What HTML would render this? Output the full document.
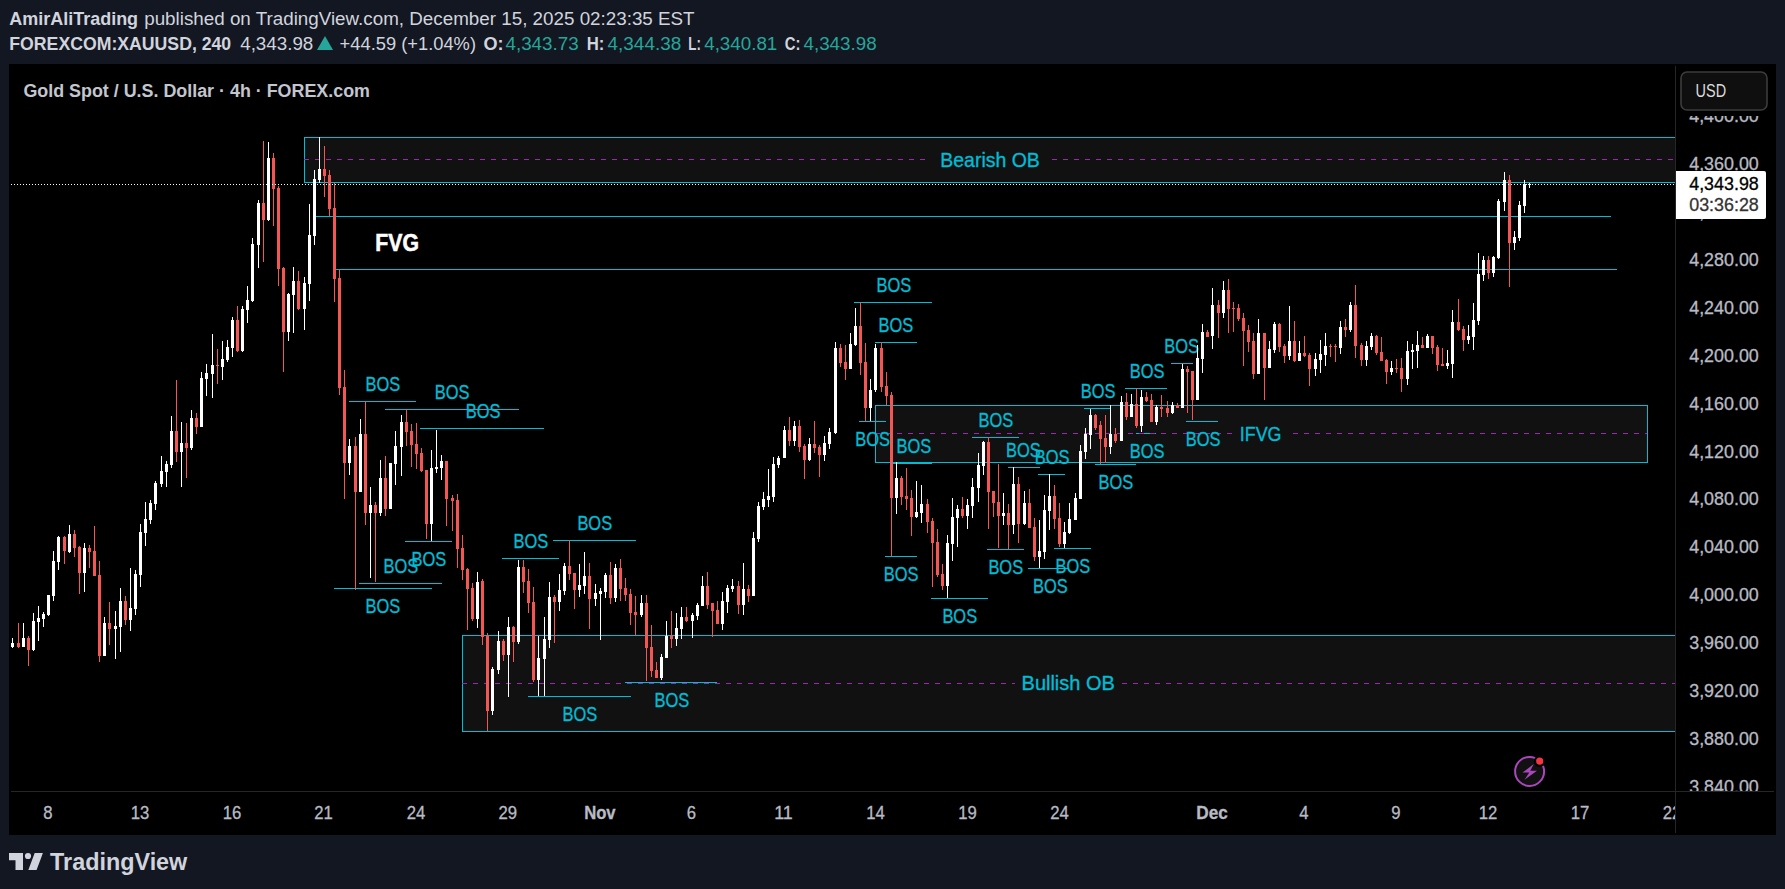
<!DOCTYPE html>
<html lang="en"><head><meta charset="utf-8"><title>XAUUSD chart</title>
<style>html,body{margin:0;padding:0;background:#131722;overflow:hidden}svg{display:block}text{font-family:"Liberation Sans", Arial, sans-serif;}</style></head><body>
<svg width="1785" height="889" viewBox="0 0 1785 889">
<rect width="1785" height="889" fill="#131722"/>
<text x="9.3" y="25.2" font-size="18.3" fill="#d1d4dc" font-weight="bold" textLength="128.8" lengthAdjust="spacingAndGlyphs">AmirAliTrading</text>
<text x="144.2" y="25.2" font-size="18.3" fill="#d1d4dc" textLength="550.4" lengthAdjust="spacingAndGlyphs">published on TradingView.com, December 15, 2025 02:23:35 EST</text>
<text x="9.3" y="50.4" font-size="18.3" fill="#d1d4dc" font-weight="bold" textLength="221.9" lengthAdjust="spacingAndGlyphs">FOREXCOM:XAUUSD, 240</text>
<text x="240.2" y="50.4" font-size="18.3" fill="#d1d4dc" textLength="73.1" lengthAdjust="spacingAndGlyphs">4,343.98</text>
<polygon points="317,50 325,36 333,50" fill="#26a69a"/>
<text x="339.6" y="50.4" font-size="18.3" fill="#d1d4dc" textLength="136.4" lengthAdjust="spacingAndGlyphs">+44.59 (+1.04%)</text>
<text x="483.4" y="50.4" font-size="18.3" fill="#d1d4dc" font-weight="bold" textLength="20.1" lengthAdjust="spacingAndGlyphs">O:</text>
<text x="505.5" y="50.4" font-size="18.3" fill="#26a69a" textLength="73.1" lengthAdjust="spacingAndGlyphs">4,343.73</text>
<text x="586.7" y="50.4" font-size="18.3" fill="#d1d4dc" font-weight="bold" textLength="17.7" lengthAdjust="spacingAndGlyphs">H:</text>
<text x="607.6" y="50.4" font-size="18.3" fill="#26a69a" textLength="73.6" lengthAdjust="spacingAndGlyphs">4,344.38</text>
<text x="688.3" y="50.4" font-size="18.3" fill="#d1d4dc" font-weight="bold" textLength="12.6" lengthAdjust="spacingAndGlyphs">L:</text>
<text x="704.2" y="50.4" font-size="18.3" fill="#26a69a" textLength="73.1" lengthAdjust="spacingAndGlyphs">4,340.81</text>
<text x="784.8" y="50.4" font-size="18.3" fill="#d1d4dc" font-weight="bold" textLength="15.7" lengthAdjust="spacingAndGlyphs">C:</text>
<text x="803.5" y="50.4" font-size="18.3" fill="#26a69a" textLength="73.1" lengthAdjust="spacingAndGlyphs">4,343.98</text>
<rect x="9" y="64" width="1767" height="771" fill="#000"/>
<clipPath id="pane"><rect x="9" y="64" width="1666.5" height="727.5"/></clipPath>
<g clip-path="url(#pane)">
<g shape-rendering="crispEdges">
<rect x="304.5" y="137.5" width="1395.5" height="45.0" fill="#111111"/>
<path d="M1700 137.5H304.5V182.5H1700" fill="none" stroke="#00bcd4" stroke-width="1"/>
<rect x="462.5" y="635.5" width="1237.5" height="96.0" fill="#111111"/>
<path d="M1700 635.5H462.5V731.5H1700" fill="none" stroke="#00bcd4" stroke-width="1"/>
<rect x="875.5" y="405.5" width="772.0" height="57.0" fill="#111111"/>
<rect x="875.5" y="405.5" width="772.0" height="57.0" fill="none" stroke="#00bcd4" stroke-width="1"/>
<line x1="304" y1="159.5" x2="928" y2="159.5" stroke="#9c27b0" stroke-width="1" stroke-dasharray="5 6"/>
<line x1="1052" y1="159.5" x2="1700" y2="159.5" stroke="#9c27b0" stroke-width="1" stroke-dasharray="5 6"/>
<line x1="462" y1="683.5" x2="1015" y2="683.5" stroke="#9c27b0" stroke-width="1" stroke-dasharray="5 6"/>
<line x1="1122" y1="683.5" x2="1700" y2="683.5" stroke="#9c27b0" stroke-width="1" stroke-dasharray="5 6"/>
<line x1="315.4" y1="216.5" x2="1611" y2="216.5" stroke="#00bcd4" stroke-width="1"/>
<line x1="336" y1="269.5" x2="1616.7" y2="269.5" stroke="#00bcd4" stroke-width="1"/>
<line x1="348.8" y1="401.5" x2="416.3" y2="401.5" stroke="#00bcd4" stroke-width="1"/>
<line x1="384.7" y1="409.5" x2="518.5" y2="409.5" stroke="#00bcd4" stroke-width="1"/>
<line x1="420.4" y1="428.5" x2="544" y2="428.5" stroke="#00bcd4" stroke-width="1"/>
<line x1="405" y1="541.5" x2="452" y2="541.5" stroke="#00bcd4" stroke-width="1"/>
<line x1="359" y1="583.5" x2="441.7" y2="583.5" stroke="#00bcd4" stroke-width="1"/>
<line x1="333.6" y1="588.5" x2="431.8" y2="588.5" stroke="#00bcd4" stroke-width="1"/>
<line x1="502" y1="558.5" x2="559.3" y2="558.5" stroke="#00bcd4" stroke-width="1"/>
<line x1="553" y1="540.5" x2="635.8" y2="540.5" stroke="#00bcd4" stroke-width="1"/>
<line x1="527.6" y1="696.5" x2="630.9" y2="696.5" stroke="#00bcd4" stroke-width="1"/>
<line x1="624.6" y1="682.5" x2="717.4" y2="682.5" stroke="#00bcd4" stroke-width="1"/>
<line x1="854.4" y1="302.5" x2="931.9" y2="302.5" stroke="#00bcd4" stroke-width="1"/>
<line x1="875.2" y1="342.5" x2="916.7" y2="342.5" stroke="#00bcd4" stroke-width="1"/>
<line x1="859.4" y1="421.5" x2="886" y2="421.5" stroke="#00bcd4" stroke-width="1"/>
<line x1="892" y1="463.5" x2="932" y2="463.5" stroke="#00bcd4" stroke-width="1"/>
<line x1="884.9" y1="556.5" x2="917.1" y2="556.5" stroke="#00bcd4" stroke-width="1"/>
<line x1="930.9" y1="598.5" x2="988.3" y2="598.5" stroke="#00bcd4" stroke-width="1"/>
<line x1="986.9" y1="549.5" x2="1024" y2="549.5" stroke="#00bcd4" stroke-width="1"/>
<line x1="1027.9" y1="568.5" x2="1068.6" y2="568.5" stroke="#00bcd4" stroke-width="1"/>
<line x1="1053.7" y1="548.5" x2="1090.6" y2="548.5" stroke="#00bcd4" stroke-width="1"/>
<line x1="972" y1="437.5" x2="1018.7" y2="437.5" stroke="#00bcd4" stroke-width="1"/>
<line x1="1008" y1="467.5" x2="1039.6" y2="467.5" stroke="#00bcd4" stroke-width="1"/>
<line x1="1038" y1="474.5" x2="1064.9" y2="474.5" stroke="#00bcd4" stroke-width="1"/>
<line x1="1084" y1="408.5" x2="1110.8" y2="408.5" stroke="#00bcd4" stroke-width="1"/>
<line x1="1125" y1="388.5" x2="1166.7" y2="388.5" stroke="#00bcd4" stroke-width="1"/>
<line x1="1094.6" y1="464.5" x2="1136" y2="464.5" stroke="#00bcd4" stroke-width="1"/>
<line x1="1135.7" y1="433.5" x2="1156" y2="433.5" stroke="#00bcd4" stroke-width="1"/>
<line x1="1171.4" y1="363.5" x2="1192.6" y2="363.5" stroke="#00bcd4" stroke-width="1"/>
<line x1="1186" y1="421.5" x2="1218" y2="421.5" stroke="#00bcd4" stroke-width="1"/>
<line x1="875" y1="433.5" x2="1234" y2="433.5" stroke="#9c27b0" stroke-width="1" stroke-dasharray="5 6"/>
<line x1="1293" y1="433.5" x2="1647" y2="433.5" stroke="#9c27b0" stroke-width="1" stroke-dasharray="5 6"/>
</g>
<g stroke="#00bcd4" stroke-width="0.35">
<text x="365.6" y="390.9" font-size="20.8" fill="#00bcd4" textLength="34.7" lengthAdjust="spacingAndGlyphs">BOS</text>
<text x="434.8" y="398.9" font-size="20.8" fill="#00bcd4" textLength="34.7" lengthAdjust="spacingAndGlyphs">BOS</text>
<text x="465.8" y="417.9" font-size="20.8" fill="#00bcd4" textLength="34.7" lengthAdjust="spacingAndGlyphs">BOS</text>
<text x="411.6" y="565.7" font-size="20.8" fill="#00bcd4" textLength="34.7" lengthAdjust="spacingAndGlyphs">BOS</text>
<text x="383.6" y="572.9" font-size="20.8" fill="#00bcd4" textLength="34.7" lengthAdjust="spacingAndGlyphs">BOS</text>
<text x="365.6" y="612.7" font-size="20.8" fill="#00bcd4" textLength="34.7" lengthAdjust="spacingAndGlyphs">BOS</text>
<text x="513.6" y="547.9" font-size="20.8" fill="#00bcd4" textLength="34.7" lengthAdjust="spacingAndGlyphs">BOS</text>
<text x="577.4" y="529.9" font-size="20.8" fill="#00bcd4" textLength="34.7" lengthAdjust="spacingAndGlyphs">BOS</text>
<text x="562.6" y="720.7" font-size="20.8" fill="#00bcd4" textLength="34.7" lengthAdjust="spacingAndGlyphs">BOS</text>
<text x="654.5" y="706.7" font-size="20.8" fill="#00bcd4" textLength="34.7" lengthAdjust="spacingAndGlyphs">BOS</text>
<text x="876.6" y="291.9" font-size="20.8" fill="#00bcd4" textLength="34.7" lengthAdjust="spacingAndGlyphs">BOS</text>
<text x="878.5" y="331.9" font-size="20.8" fill="#00bcd4" textLength="34.7" lengthAdjust="spacingAndGlyphs">BOS</text>
<text x="855.2" y="445.7" font-size="20.8" fill="#00bcd4" textLength="34.7" lengthAdjust="spacingAndGlyphs">BOS</text>
<text x="896.6" y="452.9" font-size="20.8" fill="#00bcd4" textLength="34.7" lengthAdjust="spacingAndGlyphs">BOS</text>
<text x="883.8" y="580.7" font-size="20.8" fill="#00bcd4" textLength="34.7" lengthAdjust="spacingAndGlyphs">BOS</text>
<text x="942.4" y="622.7" font-size="20.8" fill="#00bcd4" textLength="34.7" lengthAdjust="spacingAndGlyphs">BOS</text>
<text x="988.4" y="573.7" font-size="20.8" fill="#00bcd4" textLength="34.7" lengthAdjust="spacingAndGlyphs">BOS</text>
<text x="1033.1" y="592.7" font-size="20.8" fill="#00bcd4" textLength="34.7" lengthAdjust="spacingAndGlyphs">BOS</text>
<text x="1055.5" y="572.7" font-size="20.8" fill="#00bcd4" textLength="34.7" lengthAdjust="spacingAndGlyphs">BOS</text>
<text x="978.6" y="426.9" font-size="20.8" fill="#00bcd4" textLength="34.7" lengthAdjust="spacingAndGlyphs">BOS</text>
<text x="1006.1" y="456.9" font-size="20.8" fill="#00bcd4" textLength="34.7" lengthAdjust="spacingAndGlyphs">BOS</text>
<text x="1034.7" y="463.9" font-size="20.8" fill="#00bcd4" textLength="34.7" lengthAdjust="spacingAndGlyphs">BOS</text>
<text x="1080.7" y="397.9" font-size="20.8" fill="#00bcd4" textLength="34.7" lengthAdjust="spacingAndGlyphs">BOS</text>
<text x="1129.7" y="377.9" font-size="20.8" fill="#00bcd4" textLength="34.7" lengthAdjust="spacingAndGlyphs">BOS</text>
<text x="1098.6" y="488.7" font-size="20.8" fill="#00bcd4" textLength="34.7" lengthAdjust="spacingAndGlyphs">BOS</text>
<text x="1129.7" y="457.7" font-size="20.8" fill="#00bcd4" textLength="34.7" lengthAdjust="spacingAndGlyphs">BOS</text>
<text x="1164.2" y="352.9" font-size="20.8" fill="#00bcd4" textLength="34.7" lengthAdjust="spacingAndGlyphs">BOS</text>
<text x="1185.7" y="445.7" font-size="20.8" fill="#00bcd4" textLength="34.7" lengthAdjust="spacingAndGlyphs">BOS</text>
<text x="940.3" y="166.6" font-size="20.8" fill="#00bcd4" textLength="99.5" lengthAdjust="spacingAndGlyphs">Bearish OB</text>
<text x="1021.6" y="690.0" font-size="20.8" fill="#00bcd4" textLength="93.1" lengthAdjust="spacingAndGlyphs">Bullish OB</text>
<text x="1239.8" y="441.0" font-size="20.8" fill="#00bcd4" textLength="41.7" lengthAdjust="spacingAndGlyphs">IFVG</text>
</g>
<g stroke="#fff" stroke-width="0.6">
<text x="375.3" y="251.0" font-size="23.5" fill="#ffffff" font-weight="bold" textLength="43.6" lengthAdjust="spacingAndGlyphs">FVG</text>
</g>
<text x="23.4" y="97.0" font-size="17.6" fill="#c3c6ce" font-weight="bold" textLength="346.6" lengthAdjust="spacingAndGlyphs">Gold Spot / U.S. Dollar · 4h · FOREX.com</text>
<rect x="12" y="638" width="1" height="10" fill="#ffffff"/><rect x="11" y="643" width="3" height="4" fill="#ffffff"/>
<rect x="18" y="623" width="1" height="25" fill="#f45654"/><rect x="17" y="643" width="3" height="4" fill="#f45654"/>
<rect x="23" y="623" width="1" height="24" fill="#ffffff"/><rect x="22" y="638" width="3" height="9" fill="#ffffff"/>
<rect x="28" y="636" width="1" height="30" fill="#f45654"/><rect x="27" y="638" width="3" height="12" fill="#f45654"/>
<rect x="33" y="613" width="1" height="38" fill="#ffffff"/><rect x="32" y="621" width="3" height="29" fill="#ffffff"/>
<rect x="38" y="606" width="1" height="35" fill="#ffffff"/><rect x="37" y="618" width="3" height="4" fill="#ffffff"/>
<rect x="43" y="612" width="1" height="15" fill="#ffffff"/><rect x="42" y="614" width="3" height="5" fill="#ffffff"/>
<rect x="48" y="595" width="1" height="21" fill="#ffffff"/><rect x="47" y="595" width="3" height="20" fill="#ffffff"/>
<rect x="53" y="551" width="1" height="50" fill="#ffffff"/><rect x="52" y="561" width="3" height="35" fill="#ffffff"/>
<rect x="58" y="536" width="1" height="34" fill="#ffffff"/><rect x="57" y="537" width="3" height="25" fill="#ffffff"/>
<rect x="64" y="536" width="1" height="28" fill="#f45654"/><rect x="63" y="537" width="3" height="14" fill="#f45654"/>
<rect x="69" y="525" width="1" height="28" fill="#ffffff"/><rect x="68" y="534" width="3" height="18" fill="#ffffff"/>
<rect x="74" y="530" width="1" height="27" fill="#f45654"/><rect x="73" y="534" width="3" height="14" fill="#f45654"/>
<rect x="79" y="546" width="1" height="48" fill="#f45654"/><rect x="78" y="547" width="3" height="26" fill="#f45654"/>
<rect x="84" y="543" width="1" height="49" fill="#ffffff"/><rect x="83" y="548" width="3" height="25" fill="#ffffff"/>
<rect x="89" y="545" width="1" height="23" fill="#f45654"/><rect x="88" y="548" width="3" height="4" fill="#f45654"/>
<rect x="94" y="526" width="1" height="50" fill="#f45654"/><rect x="93" y="551" width="3" height="25" fill="#f45654"/>
<rect x="99" y="561" width="1" height="101" fill="#f45654"/><rect x="98" y="575" width="3" height="81" fill="#f45654"/>
<rect x="104" y="617" width="1" height="39" fill="#ffffff"/><rect x="103" y="623" width="3" height="33" fill="#ffffff"/>
<rect x="109" y="602" width="1" height="43" fill="#f45654"/><rect x="108" y="623" width="3" height="6" fill="#f45654"/>
<rect x="115" y="611" width="1" height="48" fill="#ffffff"/><rect x="114" y="626" width="3" height="3" fill="#ffffff"/>
<rect x="120" y="588" width="1" height="64" fill="#ffffff"/><rect x="119" y="601" width="3" height="26" fill="#ffffff"/>
<rect x="125" y="596" width="1" height="29" fill="#f45654"/><rect x="124" y="601" width="3" height="19" fill="#f45654"/>
<rect x="130" y="568" width="1" height="63" fill="#ffffff"/><rect x="129" y="608" width="3" height="12" fill="#ffffff"/>
<rect x="135" y="570" width="1" height="45" fill="#ffffff"/><rect x="134" y="574" width="3" height="35" fill="#ffffff"/>
<rect x="140" y="524" width="1" height="63" fill="#ffffff"/><rect x="139" y="532" width="3" height="43" fill="#ffffff"/>
<rect x="145" y="502" width="1" height="44" fill="#ffffff"/><rect x="144" y="519" width="3" height="14" fill="#ffffff"/>
<rect x="150" y="500" width="1" height="24" fill="#ffffff"/><rect x="149" y="503" width="3" height="17" fill="#ffffff"/>
<rect x="155" y="481" width="1" height="29" fill="#ffffff"/><rect x="154" y="483" width="3" height="21" fill="#ffffff"/>
<rect x="161" y="456" width="1" height="31" fill="#ffffff"/><rect x="160" y="471" width="3" height="13" fill="#ffffff"/>
<rect x="166" y="461" width="1" height="26" fill="#ffffff"/><rect x="165" y="464" width="3" height="8" fill="#ffffff"/>
<rect x="171" y="416" width="1" height="52" fill="#ffffff"/><rect x="170" y="431" width="3" height="34" fill="#ffffff"/>
<rect x="176" y="380" width="1" height="82" fill="#f45654"/><rect x="175" y="431" width="3" height="21" fill="#f45654"/>
<rect x="181" y="422" width="1" height="65" fill="#ffffff"/><rect x="180" y="443" width="3" height="9" fill="#ffffff"/>
<rect x="186" y="423" width="1" height="55" fill="#f45654"/><rect x="185" y="443" width="3" height="5" fill="#f45654"/>
<rect x="191" y="410" width="1" height="40" fill="#ffffff"/><rect x="190" y="418" width="3" height="30" fill="#ffffff"/>
<rect x="196" y="413" width="1" height="21" fill="#f45654"/><rect x="195" y="418" width="3" height="9" fill="#f45654"/>
<rect x="201" y="372" width="1" height="55" fill="#ffffff"/><rect x="200" y="378" width="3" height="49" fill="#ffffff"/>
<rect x="206" y="364" width="1" height="32" fill="#ffffff"/><rect x="205" y="373" width="3" height="6" fill="#ffffff"/>
<rect x="212" y="334" width="1" height="64" fill="#ffffff"/><rect x="211" y="365" width="3" height="9" fill="#ffffff"/>
<rect x="217" y="349" width="1" height="35" fill="#f45654"/><rect x="216" y="365" width="3" height="1" fill="#f45654"/>
<rect x="222" y="341" width="1" height="39" fill="#ffffff"/><rect x="221" y="359" width="3" height="8" fill="#ffffff"/>
<rect x="227" y="340" width="1" height="22" fill="#ffffff"/><rect x="226" y="347" width="3" height="13" fill="#ffffff"/>
<rect x="232" y="317" width="1" height="40" fill="#ffffff"/><rect x="231" y="320" width="3" height="28" fill="#ffffff"/>
<rect x="237" y="306" width="1" height="46" fill="#f45654"/><rect x="236" y="320" width="3" height="31" fill="#f45654"/>
<rect x="242" y="306" width="1" height="46" fill="#ffffff"/><rect x="241" y="309" width="3" height="42" fill="#ffffff"/>
<rect x="247" y="286" width="1" height="37" fill="#ffffff"/><rect x="246" y="300" width="3" height="10" fill="#ffffff"/>
<rect x="252" y="238" width="1" height="64" fill="#ffffff"/><rect x="251" y="244" width="3" height="57" fill="#ffffff"/>
<rect x="258" y="200" width="1" height="68" fill="#ffffff"/><rect x="257" y="203" width="3" height="42" fill="#ffffff"/>
<rect x="263" y="141" width="1" height="121" fill="#f45654"/><rect x="262" y="203" width="3" height="17" fill="#f45654"/>
<rect x="268" y="142" width="1" height="79" fill="#ffffff"/><rect x="267" y="158" width="3" height="62" fill="#ffffff"/>
<rect x="273" y="153" width="1" height="73" fill="#f45654"/><rect x="272" y="158" width="3" height="31" fill="#f45654"/>
<rect x="278" y="186" width="1" height="100" fill="#f45654"/><rect x="277" y="188" width="3" height="81" fill="#f45654"/>
<rect x="283" y="267" width="1" height="105" fill="#f45654"/><rect x="282" y="268" width="3" height="64" fill="#f45654"/>
<rect x="288" y="293" width="1" height="48" fill="#ffffff"/><rect x="287" y="294" width="3" height="38" fill="#ffffff"/>
<rect x="293" y="267" width="1" height="66" fill="#ffffff"/><rect x="292" y="281" width="3" height="14" fill="#ffffff"/>
<rect x="298" y="271" width="1" height="39" fill="#f45654"/><rect x="297" y="281" width="3" height="28" fill="#f45654"/>
<rect x="304" y="277" width="1" height="53" fill="#ffffff"/><rect x="303" y="283" width="3" height="26" fill="#ffffff"/>
<rect x="309" y="204" width="1" height="97" fill="#ffffff"/><rect x="308" y="235" width="3" height="49" fill="#ffffff"/>
<rect x="314" y="170" width="1" height="75" fill="#ffffff"/><rect x="313" y="179" width="3" height="57" fill="#ffffff"/>
<rect x="319" y="137" width="1" height="46" fill="#ffffff"/><rect x="318" y="169" width="3" height="11" fill="#ffffff"/>
<rect x="324" y="146" width="1" height="51" fill="#f45654"/><rect x="323" y="169" width="3" height="7" fill="#f45654"/>
<rect x="329" y="170" width="1" height="46" fill="#f45654"/><rect x="328" y="175" width="3" height="34" fill="#f45654"/>
<rect x="334" y="183" width="1" height="119" fill="#f45654"/><rect x="333" y="208" width="3" height="71" fill="#f45654"/>
<rect x="339" y="269" width="1" height="126" fill="#f45654"/><rect x="338" y="278" width="3" height="110" fill="#f45654"/>
<rect x="344" y="370" width="1" height="129" fill="#f45654"/><rect x="343" y="387" width="3" height="76" fill="#f45654"/>
<rect x="349" y="439" width="1" height="36" fill="#ffffff"/><rect x="348" y="446" width="3" height="17" fill="#ffffff"/>
<rect x="355" y="437" width="1" height="153" fill="#f45654"/><rect x="354" y="446" width="3" height="46" fill="#f45654"/>
<rect x="360" y="419" width="1" height="73" fill="#ffffff"/><rect x="359" y="434" width="3" height="58" fill="#ffffff"/>
<rect x="365" y="402" width="1" height="123" fill="#f45654"/><rect x="364" y="434" width="3" height="79" fill="#f45654"/>
<rect x="370" y="487" width="1" height="91" fill="#ffffff"/><rect x="369" y="505" width="3" height="8" fill="#ffffff"/>
<rect x="375" y="502" width="1" height="80" fill="#f45654"/><rect x="374" y="505" width="3" height="8" fill="#f45654"/>
<rect x="380" y="460" width="1" height="56" fill="#ffffff"/><rect x="379" y="478" width="3" height="35" fill="#ffffff"/>
<rect x="385" y="456" width="1" height="60" fill="#f45654"/><rect x="384" y="478" width="3" height="31" fill="#f45654"/>
<rect x="390" y="463" width="1" height="46" fill="#ffffff"/><rect x="389" y="463" width="3" height="46" fill="#ffffff"/>
<rect x="395" y="431" width="1" height="54" fill="#ffffff"/><rect x="394" y="446" width="3" height="18" fill="#ffffff"/>
<rect x="401" y="415" width="1" height="61" fill="#ffffff"/><rect x="400" y="422" width="3" height="25" fill="#ffffff"/>
<rect x="406" y="410" width="1" height="36" fill="#f45654"/><rect x="405" y="422" width="3" height="10" fill="#f45654"/>
<rect x="411" y="424" width="1" height="43" fill="#f45654"/><rect x="410" y="431" width="3" height="14" fill="#f45654"/>
<rect x="416" y="423" width="1" height="46" fill="#f45654"/><rect x="415" y="444" width="3" height="10" fill="#f45654"/>
<rect x="421" y="448" width="1" height="24" fill="#f45654"/><rect x="420" y="453" width="3" height="18" fill="#f45654"/>
<rect x="426" y="470" width="1" height="69" fill="#f45654"/><rect x="425" y="470" width="3" height="54" fill="#f45654"/>
<rect x="431" y="450" width="1" height="91" fill="#ffffff"/><rect x="430" y="468" width="3" height="56" fill="#ffffff"/>
<rect x="436" y="430" width="1" height="43" fill="#ffffff"/><rect x="435" y="467" width="3" height="2" fill="#ffffff"/>
<rect x="441" y="455" width="1" height="25" fill="#ffffff"/><rect x="440" y="461" width="3" height="7" fill="#ffffff"/>
<rect x="446" y="461" width="1" height="65" fill="#f45654"/><rect x="445" y="461" width="3" height="38" fill="#f45654"/>
<rect x="452" y="495" width="1" height="36" fill="#f45654"/><rect x="451" y="498" width="3" height="3" fill="#f45654"/>
<rect x="457" y="494" width="1" height="74" fill="#f45654"/><rect x="456" y="500" width="3" height="49" fill="#f45654"/>
<rect x="462" y="535" width="1" height="45" fill="#f45654"/><rect x="461" y="548" width="3" height="22" fill="#f45654"/>
<rect x="467" y="568" width="1" height="62" fill="#f45654"/><rect x="466" y="569" width="3" height="20" fill="#f45654"/>
<rect x="472" y="583" width="1" height="38" fill="#f45654"/><rect x="471" y="588" width="3" height="31" fill="#f45654"/>
<rect x="477" y="572" width="1" height="56" fill="#ffffff"/><rect x="476" y="582" width="3" height="37" fill="#ffffff"/>
<rect x="482" y="579" width="1" height="66" fill="#f45654"/><rect x="481" y="581" width="3" height="56" fill="#f45654"/>
<rect x="487" y="633" width="1" height="98" fill="#f45654"/><rect x="486" y="636" width="3" height="75" fill="#f45654"/>
<rect x="492" y="667" width="1" height="48" fill="#ffffff"/><rect x="491" y="669" width="3" height="42" fill="#ffffff"/>
<rect x="498" y="631" width="1" height="43" fill="#ffffff"/><rect x="497" y="641" width="3" height="29" fill="#ffffff"/>
<rect x="503" y="639" width="1" height="22" fill="#f45654"/><rect x="502" y="641" width="3" height="14" fill="#f45654"/>
<rect x="508" y="617" width="1" height="80" fill="#ffffff"/><rect x="507" y="627" width="3" height="28" fill="#ffffff"/>
<rect x="513" y="626" width="1" height="36" fill="#f45654"/><rect x="512" y="627" width="3" height="15" fill="#f45654"/>
<rect x="518" y="560" width="1" height="84" fill="#ffffff"/><rect x="517" y="567" width="3" height="75" fill="#ffffff"/>
<rect x="523" y="560" width="1" height="33" fill="#f45654"/><rect x="522" y="567" width="3" height="15" fill="#f45654"/>
<rect x="528" y="569" width="1" height="44" fill="#f45654"/><rect x="527" y="581" width="3" height="22" fill="#f45654"/>
<rect x="533" y="587" width="1" height="95" fill="#f45654"/><rect x="532" y="602" width="3" height="78" fill="#f45654"/>
<rect x="538" y="636" width="1" height="60" fill="#ffffff"/><rect x="537" y="658" width="3" height="22" fill="#ffffff"/>
<rect x="544" y="617" width="1" height="79" fill="#ffffff"/><rect x="543" y="639" width="3" height="20" fill="#ffffff"/>
<rect x="549" y="582" width="1" height="66" fill="#ffffff"/><rect x="548" y="597" width="3" height="43" fill="#ffffff"/>
<rect x="554" y="595" width="1" height="48" fill="#f45654"/><rect x="553" y="597" width="3" height="5" fill="#f45654"/>
<rect x="559" y="574" width="1" height="37" fill="#ffffff"/><rect x="558" y="590" width="3" height="12" fill="#ffffff"/>
<rect x="564" y="563" width="1" height="32" fill="#ffffff"/><rect x="563" y="566" width="3" height="25" fill="#ffffff"/>
<rect x="569" y="540" width="1" height="40" fill="#f45654"/><rect x="568" y="566" width="3" height="8" fill="#f45654"/>
<rect x="574" y="573" width="1" height="36" fill="#f45654"/><rect x="573" y="573" width="3" height="17" fill="#f45654"/>
<rect x="579" y="564" width="1" height="33" fill="#ffffff"/><rect x="578" y="585" width="3" height="5" fill="#ffffff"/>
<rect x="584" y="552" width="1" height="42" fill="#ffffff"/><rect x="583" y="576" width="3" height="10" fill="#ffffff"/>
<rect x="589" y="563" width="1" height="66" fill="#f45654"/><rect x="588" y="576" width="3" height="23" fill="#f45654"/>
<rect x="595" y="584" width="1" height="22" fill="#ffffff"/><rect x="594" y="593" width="3" height="6" fill="#ffffff"/>
<rect x="600" y="588" width="1" height="52" fill="#ffffff"/><rect x="599" y="591" width="3" height="3" fill="#ffffff"/>
<rect x="605" y="573" width="1" height="25" fill="#ffffff"/><rect x="604" y="575" width="3" height="17" fill="#ffffff"/>
<rect x="610" y="562" width="1" height="42" fill="#f45654"/><rect x="609" y="575" width="3" height="23" fill="#f45654"/>
<rect x="615" y="564" width="1" height="38" fill="#ffffff"/><rect x="614" y="568" width="3" height="30" fill="#ffffff"/>
<rect x="620" y="559" width="1" height="42" fill="#f45654"/><rect x="619" y="568" width="3" height="21" fill="#f45654"/>
<rect x="625" y="578" width="1" height="23" fill="#f45654"/><rect x="624" y="588" width="3" height="7" fill="#f45654"/>
<rect x="630" y="589" width="1" height="36" fill="#f45654"/><rect x="629" y="594" width="3" height="19" fill="#f45654"/>
<rect x="635" y="596" width="1" height="39" fill="#f45654"/><rect x="634" y="612" width="3" height="3" fill="#f45654"/>
<rect x="641" y="595" width="1" height="22" fill="#ffffff"/><rect x="640" y="603" width="3" height="12" fill="#ffffff"/>
<rect x="646" y="595" width="1" height="86" fill="#f45654"/><rect x="645" y="603" width="3" height="45" fill="#f45654"/>
<rect x="651" y="625" width="1" height="52" fill="#f45654"/><rect x="650" y="647" width="3" height="24" fill="#f45654"/>
<rect x="656" y="662" width="1" height="16" fill="#f45654"/><rect x="655" y="670" width="3" height="8" fill="#f45654"/>
<rect x="661" y="654" width="1" height="26" fill="#ffffff"/><rect x="660" y="657" width="3" height="21" fill="#ffffff"/>
<rect x="666" y="621" width="1" height="37" fill="#ffffff"/><rect x="665" y="636" width="3" height="22" fill="#ffffff"/>
<rect x="671" y="611" width="1" height="37" fill="#f45654"/><rect x="670" y="636" width="3" height="3" fill="#f45654"/>
<rect x="676" y="613" width="1" height="33" fill="#ffffff"/><rect x="675" y="628" width="3" height="11" fill="#ffffff"/>
<rect x="681" y="607" width="1" height="32" fill="#ffffff"/><rect x="680" y="617" width="3" height="12" fill="#ffffff"/>
<rect x="686" y="607" width="1" height="15" fill="#f45654"/><rect x="685" y="617" width="3" height="4" fill="#f45654"/>
<rect x="692" y="613" width="1" height="25" fill="#ffffff"/><rect x="691" y="615" width="3" height="6" fill="#ffffff"/>
<rect x="697" y="603" width="1" height="17" fill="#ffffff"/><rect x="696" y="605" width="3" height="11" fill="#ffffff"/>
<rect x="702" y="576" width="1" height="30" fill="#ffffff"/><rect x="701" y="586" width="3" height="20" fill="#ffffff"/>
<rect x="707" y="572" width="1" height="37" fill="#f45654"/><rect x="706" y="586" width="3" height="19" fill="#f45654"/>
<rect x="712" y="603" width="1" height="34" fill="#f45654"/><rect x="711" y="603" width="3" height="8" fill="#f45654"/>
<rect x="717" y="601" width="1" height="23" fill="#f45654"/><rect x="716" y="610" width="3" height="14" fill="#f45654"/>
<rect x="722" y="592" width="1" height="38" fill="#ffffff"/><rect x="721" y="601" width="3" height="23" fill="#ffffff"/>
<rect x="727" y="585" width="1" height="28" fill="#ffffff"/><rect x="726" y="588" width="3" height="14" fill="#ffffff"/>
<rect x="732" y="579" width="1" height="13" fill="#ffffff"/><rect x="731" y="586" width="3" height="3" fill="#ffffff"/>
<rect x="738" y="581" width="1" height="33" fill="#f45654"/><rect x="737" y="586" width="3" height="19" fill="#f45654"/>
<rect x="743" y="563" width="1" height="52" fill="#ffffff"/><rect x="742" y="589" width="3" height="16" fill="#ffffff"/>
<rect x="748" y="585" width="1" height="17" fill="#f45654"/><rect x="747" y="589" width="3" height="7" fill="#f45654"/>
<rect x="753" y="532" width="1" height="64" fill="#ffffff"/><rect x="752" y="538" width="3" height="58" fill="#ffffff"/>
<rect x="758" y="502" width="1" height="40" fill="#ffffff"/><rect x="757" y="506" width="3" height="33" fill="#ffffff"/>
<rect x="763" y="492" width="1" height="18" fill="#ffffff"/><rect x="762" y="499" width="3" height="8" fill="#ffffff"/>
<rect x="768" y="469" width="1" height="38" fill="#ffffff"/><rect x="767" y="496" width="3" height="4" fill="#ffffff"/>
<rect x="773" y="457" width="1" height="45" fill="#ffffff"/><rect x="772" y="464" width="3" height="33" fill="#ffffff"/>
<rect x="778" y="456" width="1" height="12" fill="#ffffff"/><rect x="777" y="458" width="3" height="7" fill="#ffffff"/>
<rect x="784" y="426" width="1" height="32" fill="#ffffff"/><rect x="783" y="430" width="3" height="28" fill="#ffffff"/>
<rect x="789" y="417" width="1" height="29" fill="#f45654"/><rect x="788" y="430" width="3" height="11" fill="#f45654"/>
<rect x="794" y="421" width="1" height="25" fill="#ffffff"/><rect x="793" y="426" width="3" height="15" fill="#ffffff"/>
<rect x="799" y="420" width="1" height="32" fill="#f45654"/><rect x="798" y="426" width="3" height="21" fill="#f45654"/>
<rect x="804" y="444" width="1" height="35" fill="#f45654"/><rect x="803" y="446" width="3" height="14" fill="#f45654"/>
<rect x="809" y="438" width="1" height="23" fill="#ffffff"/><rect x="808" y="444" width="3" height="16" fill="#ffffff"/>
<rect x="814" y="421" width="1" height="32" fill="#f45654"/><rect x="813" y="444" width="3" height="4" fill="#f45654"/>
<rect x="819" y="445" width="1" height="32" fill="#f45654"/><rect x="818" y="447" width="3" height="8" fill="#f45654"/>
<rect x="824" y="436" width="1" height="25" fill="#ffffff"/><rect x="823" y="443" width="3" height="12" fill="#ffffff"/>
<rect x="829" y="428" width="1" height="21" fill="#ffffff"/><rect x="828" y="432" width="3" height="12" fill="#ffffff"/>
<rect x="835" y="342" width="1" height="92" fill="#ffffff"/><rect x="834" y="348" width="3" height="85" fill="#ffffff"/>
<rect x="840" y="344" width="1" height="23" fill="#f45654"/><rect x="839" y="348" width="3" height="15" fill="#f45654"/>
<rect x="845" y="345" width="1" height="35" fill="#f45654"/><rect x="844" y="362" width="3" height="7" fill="#f45654"/>
<rect x="850" y="333" width="1" height="36" fill="#ffffff"/><rect x="849" y="344" width="3" height="25" fill="#ffffff"/>
<rect x="855" y="308" width="1" height="38" fill="#ffffff"/><rect x="854" y="326" width="3" height="19" fill="#ffffff"/>
<rect x="860" y="302" width="1" height="73" fill="#f45654"/><rect x="859" y="326" width="3" height="37" fill="#f45654"/>
<rect x="865" y="343" width="1" height="78" fill="#f45654"/><rect x="864" y="362" width="3" height="46" fill="#f45654"/>
<rect x="870" y="379" width="1" height="42" fill="#ffffff"/><rect x="869" y="390" width="3" height="18" fill="#ffffff"/>
<rect x="875" y="344" width="1" height="48" fill="#ffffff"/><rect x="874" y="348" width="3" height="42" fill="#ffffff"/>
<rect x="881" y="342" width="1" height="50" fill="#f45654"/><rect x="880" y="348" width="3" height="39" fill="#f45654"/>
<rect x="886" y="372" width="1" height="33" fill="#f45654"/><rect x="885" y="386" width="3" height="10" fill="#f45654"/>
<rect x="891" y="392" width="1" height="164" fill="#f45654"/><rect x="890" y="395" width="3" height="103" fill="#f45654"/>
<rect x="896" y="462" width="1" height="52" fill="#ffffff"/><rect x="895" y="478" width="3" height="20" fill="#ffffff"/>
<rect x="901" y="476" width="1" height="29" fill="#f45654"/><rect x="900" y="478" width="3" height="19" fill="#f45654"/>
<rect x="906" y="468" width="1" height="42" fill="#f45654"/><rect x="905" y="496" width="3" height="3" fill="#f45654"/>
<rect x="911" y="490" width="1" height="46" fill="#f45654"/><rect x="910" y="498" width="3" height="19" fill="#f45654"/>
<rect x="916" y="481" width="1" height="37" fill="#ffffff"/><rect x="915" y="512" width="3" height="5" fill="#ffffff"/>
<rect x="921" y="485" width="1" height="38" fill="#ffffff"/><rect x="920" y="504" width="3" height="9" fill="#ffffff"/>
<rect x="927" y="499" width="1" height="34" fill="#f45654"/><rect x="926" y="504" width="3" height="18" fill="#f45654"/>
<rect x="932" y="518" width="1" height="69" fill="#f45654"/><rect x="931" y="521" width="3" height="22" fill="#f45654"/>
<rect x="937" y="529" width="1" height="48" fill="#f45654"/><rect x="936" y="542" width="3" height="33" fill="#f45654"/>
<rect x="942" y="564" width="1" height="26" fill="#f45654"/><rect x="941" y="574" width="3" height="12" fill="#f45654"/>
<rect x="947" y="535" width="1" height="63" fill="#ffffff"/><rect x="946" y="543" width="3" height="43" fill="#ffffff"/>
<rect x="952" y="498" width="1" height="63" fill="#ffffff"/><rect x="951" y="517" width="3" height="27" fill="#ffffff"/>
<rect x="957" y="505" width="1" height="42" fill="#ffffff"/><rect x="956" y="509" width="3" height="9" fill="#ffffff"/>
<rect x="962" y="497" width="1" height="21" fill="#f45654"/><rect x="961" y="509" width="3" height="7" fill="#f45654"/>
<rect x="967" y="499" width="1" height="30" fill="#ffffff"/><rect x="966" y="505" width="3" height="11" fill="#ffffff"/>
<rect x="972" y="478" width="1" height="40" fill="#ffffff"/><rect x="971" y="487" width="3" height="19" fill="#ffffff"/>
<rect x="978" y="453" width="1" height="49" fill="#ffffff"/><rect x="977" y="465" width="3" height="23" fill="#ffffff"/>
<rect x="983" y="441" width="1" height="34" fill="#ffffff"/><rect x="982" y="442" width="3" height="24" fill="#ffffff"/>
<rect x="988" y="437" width="1" height="92" fill="#f45654"/><rect x="987" y="442" width="3" height="50" fill="#f45654"/>
<rect x="993" y="491" width="1" height="26" fill="#f45654"/><rect x="992" y="491" width="3" height="12" fill="#f45654"/>
<rect x="998" y="464" width="1" height="84" fill="#f45654"/><rect x="997" y="502" width="3" height="14" fill="#f45654"/>
<rect x="1003" y="493" width="1" height="32" fill="#ffffff"/><rect x="1002" y="513" width="3" height="3" fill="#ffffff"/>
<rect x="1008" y="504" width="1" height="45" fill="#f45654"/><rect x="1007" y="513" width="3" height="12" fill="#f45654"/>
<rect x="1013" y="467" width="1" height="67" fill="#ffffff"/><rect x="1012" y="484" width="3" height="41" fill="#ffffff"/>
<rect x="1018" y="477" width="1" height="66" fill="#f45654"/><rect x="1017" y="484" width="3" height="40" fill="#f45654"/>
<rect x="1024" y="491" width="1" height="34" fill="#ffffff"/><rect x="1023" y="503" width="3" height="21" fill="#ffffff"/>
<rect x="1029" y="489" width="1" height="39" fill="#f45654"/><rect x="1028" y="503" width="3" height="25" fill="#f45654"/>
<rect x="1034" y="518" width="1" height="43" fill="#f45654"/><rect x="1033" y="527" width="3" height="30" fill="#f45654"/>
<rect x="1039" y="520" width="1" height="48" fill="#ffffff"/><rect x="1038" y="551" width="3" height="6" fill="#ffffff"/>
<rect x="1044" y="495" width="1" height="64" fill="#ffffff"/><rect x="1043" y="510" width="3" height="42" fill="#ffffff"/>
<rect x="1049" y="474" width="1" height="56" fill="#ffffff"/><rect x="1048" y="496" width="3" height="15" fill="#ffffff"/>
<rect x="1054" y="485" width="1" height="44" fill="#f45654"/><rect x="1053" y="496" width="3" height="23" fill="#f45654"/>
<rect x="1059" y="503" width="1" height="44" fill="#f45654"/><rect x="1058" y="518" width="3" height="26" fill="#f45654"/>
<rect x="1064" y="522" width="1" height="26" fill="#ffffff"/><rect x="1063" y="532" width="3" height="12" fill="#ffffff"/>
<rect x="1069" y="503" width="1" height="31" fill="#ffffff"/><rect x="1068" y="519" width="3" height="14" fill="#ffffff"/>
<rect x="1075" y="493" width="1" height="27" fill="#ffffff"/><rect x="1074" y="498" width="3" height="22" fill="#ffffff"/>
<rect x="1080" y="445" width="1" height="54" fill="#ffffff"/><rect x="1079" y="451" width="3" height="48" fill="#ffffff"/>
<rect x="1085" y="428" width="1" height="31" fill="#ffffff"/><rect x="1084" y="434" width="3" height="18" fill="#ffffff"/>
<rect x="1090" y="409" width="1" height="40" fill="#ffffff"/><rect x="1089" y="415" width="3" height="20" fill="#ffffff"/>
<rect x="1095" y="414" width="1" height="16" fill="#f45654"/><rect x="1094" y="415" width="3" height="13" fill="#f45654"/>
<rect x="1100" y="421" width="1" height="43" fill="#f45654"/><rect x="1099" y="425" width="3" height="14" fill="#f45654"/>
<rect x="1105" y="415" width="1" height="48" fill="#f45654"/><rect x="1104" y="438" width="3" height="9" fill="#f45654"/>
<rect x="1110" y="405" width="1" height="49" fill="#ffffff"/><rect x="1109" y="434" width="3" height="13" fill="#ffffff"/>
<rect x="1115" y="428" width="1" height="15" fill="#f45654"/><rect x="1114" y="434" width="3" height="7" fill="#f45654"/>
<rect x="1121" y="396" width="1" height="45" fill="#ffffff"/><rect x="1120" y="402" width="3" height="39" fill="#ffffff"/>
<rect x="1126" y="393" width="1" height="27" fill="#f45654"/><rect x="1125" y="402" width="3" height="15" fill="#f45654"/>
<rect x="1131" y="394" width="1" height="23" fill="#ffffff"/><rect x="1130" y="404" width="3" height="13" fill="#ffffff"/>
<rect x="1136" y="388" width="1" height="40" fill="#f45654"/><rect x="1135" y="404" width="3" height="22" fill="#f45654"/>
<rect x="1141" y="390" width="1" height="42" fill="#ffffff"/><rect x="1140" y="397" width="3" height="29" fill="#ffffff"/>
<rect x="1146" y="392" width="1" height="10" fill="#f45654"/><rect x="1145" y="397" width="3" height="4" fill="#f45654"/>
<rect x="1151" y="394" width="1" height="28" fill="#f45654"/><rect x="1150" y="400" width="3" height="22" fill="#f45654"/>
<rect x="1156" y="405" width="1" height="20" fill="#ffffff"/><rect x="1155" y="407" width="3" height="15" fill="#ffffff"/>
<rect x="1161" y="395" width="1" height="22" fill="#f45654"/><rect x="1160" y="407" width="3" height="2" fill="#f45654"/>
<rect x="1167" y="401" width="1" height="16" fill="#f45654"/><rect x="1166" y="408" width="3" height="5" fill="#f45654"/>
<rect x="1172" y="402" width="1" height="12" fill="#ffffff"/><rect x="1171" y="405" width="3" height="8" fill="#ffffff"/>
<rect x="1177" y="403" width="1" height="5" fill="#f45654"/><rect x="1176" y="405" width="3" height="3" fill="#f45654"/>
<rect x="1182" y="364" width="1" height="44" fill="#ffffff"/><rect x="1181" y="369" width="3" height="39" fill="#ffffff"/>
<rect x="1187" y="366" width="1" height="47" fill="#f45654"/><rect x="1186" y="369" width="3" height="3" fill="#f45654"/>
<rect x="1192" y="371" width="1" height="49" fill="#f45654"/><rect x="1191" y="371" width="3" height="29" fill="#f45654"/>
<rect x="1197" y="345" width="1" height="55" fill="#ffffff"/><rect x="1196" y="358" width="3" height="42" fill="#ffffff"/>
<rect x="1202" y="324" width="1" height="49" fill="#ffffff"/><rect x="1201" y="332" width="3" height="27" fill="#ffffff"/>
<rect x="1207" y="330" width="1" height="7" fill="#f45654"/><rect x="1206" y="332" width="3" height="5" fill="#f45654"/>
<rect x="1212" y="288" width="1" height="61" fill="#ffffff"/><rect x="1211" y="305" width="3" height="31" fill="#ffffff"/>
<rect x="1218" y="300" width="1" height="38" fill="#f45654"/><rect x="1217" y="305" width="3" height="8" fill="#f45654"/>
<rect x="1223" y="281" width="1" height="37" fill="#ffffff"/><rect x="1222" y="290" width="3" height="23" fill="#ffffff"/>
<rect x="1228" y="279" width="1" height="54" fill="#f45654"/><rect x="1227" y="290" width="3" height="19" fill="#f45654"/>
<rect x="1233" y="302" width="1" height="30" fill="#f45654"/><rect x="1232" y="308" width="3" height="1" fill="#f45654"/>
<rect x="1238" y="304" width="1" height="17" fill="#f45654"/><rect x="1237" y="308" width="3" height="11" fill="#f45654"/>
<rect x="1243" y="313" width="1" height="53" fill="#f45654"/><rect x="1242" y="318" width="3" height="13" fill="#f45654"/>
<rect x="1248" y="325" width="1" height="27" fill="#f45654"/><rect x="1247" y="330" width="3" height="12" fill="#f45654"/>
<rect x="1253" y="333" width="1" height="46" fill="#f45654"/><rect x="1252" y="341" width="3" height="33" fill="#f45654"/>
<rect x="1258" y="319" width="1" height="55" fill="#ffffff"/><rect x="1257" y="333" width="3" height="41" fill="#ffffff"/>
<rect x="1264" y="333" width="1" height="67" fill="#f45654"/><rect x="1263" y="333" width="3" height="35" fill="#f45654"/>
<rect x="1269" y="341" width="1" height="27" fill="#ffffff"/><rect x="1268" y="349" width="3" height="19" fill="#ffffff"/>
<rect x="1274" y="322" width="1" height="31" fill="#ffffff"/><rect x="1273" y="324" width="3" height="26" fill="#ffffff"/>
<rect x="1279" y="323" width="1" height="29" fill="#f45654"/><rect x="1278" y="324" width="3" height="23" fill="#f45654"/>
<rect x="1284" y="344" width="1" height="19" fill="#f45654"/><rect x="1283" y="346" width="3" height="10" fill="#f45654"/>
<rect x="1289" y="306" width="1" height="54" fill="#ffffff"/><rect x="1288" y="341" width="3" height="15" fill="#ffffff"/>
<rect x="1294" y="321" width="1" height="41" fill="#f45654"/><rect x="1293" y="341" width="3" height="20" fill="#f45654"/>
<rect x="1299" y="341" width="1" height="20" fill="#ffffff"/><rect x="1298" y="353" width="3" height="8" fill="#ffffff"/>
<rect x="1304" y="336" width="1" height="21" fill="#f45654"/><rect x="1303" y="353" width="3" height="3" fill="#f45654"/>
<rect x="1309" y="353" width="1" height="33" fill="#f45654"/><rect x="1308" y="355" width="3" height="14" fill="#f45654"/>
<rect x="1315" y="353" width="1" height="23" fill="#ffffff"/><rect x="1314" y="359" width="3" height="10" fill="#ffffff"/>
<rect x="1320" y="340" width="1" height="33" fill="#ffffff"/><rect x="1319" y="354" width="3" height="6" fill="#ffffff"/>
<rect x="1325" y="333" width="1" height="33" fill="#ffffff"/><rect x="1324" y="346" width="3" height="9" fill="#ffffff"/>
<rect x="1330" y="344" width="1" height="13" fill="#f45654"/><rect x="1329" y="346" width="3" height="1" fill="#f45654"/>
<rect x="1335" y="344" width="1" height="18" fill="#f45654"/><rect x="1334" y="346" width="3" height="1" fill="#f45654"/>
<rect x="1340" y="321" width="1" height="33" fill="#ffffff"/><rect x="1339" y="327" width="3" height="21" fill="#ffffff"/>
<rect x="1345" y="319" width="1" height="18" fill="#f45654"/><rect x="1344" y="327" width="3" height="3" fill="#f45654"/>
<rect x="1350" y="302" width="1" height="30" fill="#ffffff"/><rect x="1349" y="305" width="3" height="25" fill="#ffffff"/>
<rect x="1355" y="285" width="1" height="73" fill="#f45654"/><rect x="1354" y="305" width="3" height="41" fill="#f45654"/>
<rect x="1361" y="343" width="1" height="23" fill="#f45654"/><rect x="1360" y="345" width="3" height="15" fill="#f45654"/>
<rect x="1366" y="341" width="1" height="25" fill="#ffffff"/><rect x="1365" y="346" width="3" height="14" fill="#ffffff"/>
<rect x="1371" y="333" width="1" height="17" fill="#ffffff"/><rect x="1370" y="336" width="3" height="11" fill="#ffffff"/>
<rect x="1376" y="335" width="1" height="20" fill="#f45654"/><rect x="1375" y="336" width="3" height="17" fill="#f45654"/>
<rect x="1381" y="337" width="1" height="24" fill="#f45654"/><rect x="1380" y="352" width="3" height="9" fill="#f45654"/>
<rect x="1386" y="359" width="1" height="25" fill="#f45654"/><rect x="1385" y="360" width="3" height="12" fill="#f45654"/>
<rect x="1391" y="361" width="1" height="14" fill="#ffffff"/><rect x="1390" y="368" width="3" height="4" fill="#ffffff"/>
<rect x="1396" y="359" width="1" height="14" fill="#f45654"/><rect x="1395" y="368" width="3" height="1" fill="#f45654"/>
<rect x="1401" y="358" width="1" height="34" fill="#f45654"/><rect x="1400" y="368" width="3" height="11" fill="#f45654"/>
<rect x="1407" y="341" width="1" height="44" fill="#ffffff"/><rect x="1406" y="351" width="3" height="28" fill="#ffffff"/>
<rect x="1412" y="344" width="1" height="25" fill="#ffffff"/><rect x="1411" y="350" width="3" height="2" fill="#ffffff"/>
<rect x="1417" y="331" width="1" height="37" fill="#ffffff"/><rect x="1416" y="345" width="3" height="6" fill="#ffffff"/>
<rect x="1422" y="337" width="1" height="11" fill="#f45654"/><rect x="1421" y="345" width="3" height="3" fill="#f45654"/>
<rect x="1427" y="334" width="1" height="14" fill="#ffffff"/><rect x="1426" y="336" width="3" height="12" fill="#ffffff"/>
<rect x="1432" y="336" width="1" height="18" fill="#f45654"/><rect x="1431" y="336" width="3" height="12" fill="#f45654"/>
<rect x="1437" y="345" width="1" height="26" fill="#f45654"/><rect x="1436" y="347" width="3" height="18" fill="#f45654"/>
<rect x="1442" y="348" width="1" height="18" fill="#f45654"/><rect x="1441" y="364" width="3" height="2" fill="#f45654"/>
<rect x="1447" y="350" width="1" height="19" fill="#ffffff"/><rect x="1446" y="363" width="3" height="3" fill="#ffffff"/>
<rect x="1452" y="310" width="1" height="68" fill="#ffffff"/><rect x="1451" y="322" width="3" height="42" fill="#ffffff"/>
<rect x="1458" y="299" width="1" height="32" fill="#f45654"/><rect x="1457" y="322" width="3" height="8" fill="#f45654"/>
<rect x="1463" y="326" width="1" height="25" fill="#f45654"/><rect x="1462" y="329" width="3" height="11" fill="#f45654"/>
<rect x="1468" y="325" width="1" height="19" fill="#ffffff"/><rect x="1467" y="336" width="3" height="4" fill="#ffffff"/>
<rect x="1473" y="303" width="1" height="47" fill="#ffffff"/><rect x="1472" y="320" width="3" height="17" fill="#ffffff"/>
<rect x="1478" y="253" width="1" height="72" fill="#ffffff"/><rect x="1477" y="274" width="3" height="47" fill="#ffffff"/>
<rect x="1483" y="256" width="1" height="25" fill="#ffffff"/><rect x="1482" y="260" width="3" height="15" fill="#ffffff"/>
<rect x="1488" y="256" width="1" height="23" fill="#f45654"/><rect x="1487" y="260" width="3" height="13" fill="#f45654"/>
<rect x="1493" y="256" width="1" height="21" fill="#ffffff"/><rect x="1492" y="257" width="3" height="16" fill="#ffffff"/>
<rect x="1498" y="199" width="1" height="60" fill="#ffffff"/><rect x="1497" y="201" width="3" height="57" fill="#ffffff"/>
<rect x="1504" y="172" width="1" height="39" fill="#ffffff"/><rect x="1503" y="180" width="3" height="22" fill="#ffffff"/>
<rect x="1509" y="175" width="1" height="112" fill="#f45654"/><rect x="1508" y="180" width="3" height="63" fill="#f45654"/>
<rect x="1514" y="231" width="1" height="19" fill="#ffffff"/><rect x="1513" y="237" width="3" height="6" fill="#ffffff"/>
<rect x="1519" y="201" width="1" height="40" fill="#ffffff"/><rect x="1518" y="205" width="3" height="33" fill="#ffffff"/>
<rect x="1524" y="180" width="1" height="33" fill="#ffffff"/><rect x="1523" y="184" width="3" height="22" fill="#ffffff"/>
<rect x="1529" y="183" width="1" height="5" fill="#ffffff"/><rect x="1528" y="184" width="3" height="1" fill="#ffffff"/>
<line x1="11" y1="184.5" x2="1676" y2="184.5" stroke="#ffffff" stroke-width="1" stroke-dasharray="1 2" shape-rendering="crispEdges"/>
<circle cx="1539.7" cy="761.1" r="5.8" fill="#000"/>
<circle cx="1529.6" cy="771.4" r="14.5" fill="#111" stroke="#ab47bc" stroke-width="2"/>
<circle cx="1539.7" cy="761.1" r="5.8" fill="#000"/>
<circle cx="1539.7" cy="761.1" r="3.6" fill="#f23645"/>
<polygon points="1533.8,764 1522.4,772.6 1529.3,772.6 1524.5,779.7 1537,770.7 1530.3,770.7" fill="#ab47bc"/>
</g>
<rect x="1675" y="66" width="1" height="767" fill="#262626"/>
<rect x="11" y="791" width="1763" height="1" fill="#262626"/>
<g stroke="#b8bbc4" stroke-width="0.3">
<clipPath id="pax"><rect x="1676" y="64" width="100" height="727"/></clipPath><g clip-path="url(#pax)">
<text x="1689.2" y="122.2" font-size="18" fill="#b8bbc4" textLength="69.6" lengthAdjust="spacingAndGlyphs">4,400.00</text>
<text x="1689.2" y="170.1" font-size="18" fill="#b8bbc4" textLength="69.6" lengthAdjust="spacingAndGlyphs">4,360.00</text>
<text x="1689.2" y="218.0" font-size="18" fill="#b8bbc4" textLength="69.6" lengthAdjust="spacingAndGlyphs">4,320.00</text>
<text x="1689.2" y="265.9" font-size="18" fill="#b8bbc4" textLength="69.6" lengthAdjust="spacingAndGlyphs">4,280.00</text>
<text x="1689.2" y="313.8" font-size="18" fill="#b8bbc4" textLength="69.6" lengthAdjust="spacingAndGlyphs">4,240.00</text>
<text x="1689.2" y="361.7" font-size="18" fill="#b8bbc4" textLength="69.6" lengthAdjust="spacingAndGlyphs">4,200.00</text>
<text x="1689.2" y="409.6" font-size="18" fill="#b8bbc4" textLength="69.6" lengthAdjust="spacingAndGlyphs">4,160.00</text>
<text x="1689.2" y="457.5" font-size="18" fill="#b8bbc4" textLength="69.6" lengthAdjust="spacingAndGlyphs">4,120.00</text>
<text x="1689.2" y="505.4" font-size="18" fill="#b8bbc4" textLength="69.6" lengthAdjust="spacingAndGlyphs">4,080.00</text>
<text x="1689.2" y="553.3" font-size="18" fill="#b8bbc4" textLength="69.6" lengthAdjust="spacingAndGlyphs">4,040.00</text>
<text x="1689.2" y="601.2" font-size="18" fill="#b8bbc4" textLength="69.6" lengthAdjust="spacingAndGlyphs">4,000.00</text>
<text x="1689.2" y="649.1" font-size="18" fill="#b8bbc4" textLength="69.6" lengthAdjust="spacingAndGlyphs">3,960.00</text>
<text x="1689.2" y="697.0" font-size="18" fill="#b8bbc4" textLength="69.6" lengthAdjust="spacingAndGlyphs">3,920.00</text>
<text x="1689.2" y="744.9" font-size="18" fill="#b8bbc4" textLength="69.6" lengthAdjust="spacingAndGlyphs">3,880.00</text>
<text x="1689.2" y="792.8" font-size="18" fill="#b8bbc4" textLength="69.6" lengthAdjust="spacingAndGlyphs">3,840.00</text>
<text x="1689.2" y="840.7" font-size="18" fill="#b8bbc4" textLength="69.6" lengthAdjust="spacingAndGlyphs">3,800.00</text>
</g>
</g>
<rect x="1676" y="64" width="100" height="52" fill="#000"/>
<rect x="1681" y="72" width="86" height="38" rx="6" fill="#0f0f0f" stroke="#3c3c3c" stroke-width="1.6"/>
<text x="1695.6" y="96.6" font-size="17.6" fill="#dcdcdc" textLength="30.5" lengthAdjust="spacingAndGlyphs">USD</text>
<path d="M1676 171H1764a2 2 0 0 1 2 2V217a2 2 0 0 1 -2 2H1676Z" fill="#ffffff"/>
<g stroke-width="0.3">
<g stroke="#000">
<text x="1689.2" y="189.8" font-size="18" fill="#000000" textLength="69.6" lengthAdjust="spacingAndGlyphs">4,343.98</text>
</g>
<g stroke="#333">
<text x="1689.2" y="210.6" font-size="18" fill="#333333" textLength="69.6" lengthAdjust="spacingAndGlyphs">03:36:28</text>
</g>
</g>
<g stroke="#b8bbc4" stroke-width="0.3">
<clipPath id="tax"><rect x="9" y="792" width="1666" height="43"/></clipPath><g clip-path="url(#tax)">
<text x="48.0" y="819.1" font-size="18" fill="#b8bbc4" text-anchor="middle" textLength="9.3" lengthAdjust="spacingAndGlyphs">8</text>
<text x="140.0" y="819.1" font-size="18" fill="#b8bbc4" text-anchor="middle" textLength="18.6" lengthAdjust="spacingAndGlyphs">13</text>
<text x="232.0" y="819.1" font-size="18" fill="#b8bbc4" text-anchor="middle" textLength="18.6" lengthAdjust="spacingAndGlyphs">16</text>
<text x="323.5" y="819.1" font-size="18" fill="#b8bbc4" text-anchor="middle" textLength="18.6" lengthAdjust="spacingAndGlyphs">21</text>
<text x="416.0" y="819.1" font-size="18" fill="#b8bbc4" text-anchor="middle" textLength="18.6" lengthAdjust="spacingAndGlyphs">24</text>
<text x="507.7" y="819.1" font-size="18" fill="#b8bbc4" text-anchor="middle" textLength="18.6" lengthAdjust="spacingAndGlyphs">29</text>
<text x="599.9" y="819.1" font-size="18" fill="#b8bbc4" font-weight="bold" text-anchor="middle" textLength="31.5" lengthAdjust="spacingAndGlyphs">Nov</text>
<text x="691.5" y="819.1" font-size="18" fill="#b8bbc4" text-anchor="middle" textLength="9.3" lengthAdjust="spacingAndGlyphs">6</text>
<text x="783.5" y="819.1" font-size="18" fill="#b8bbc4" text-anchor="middle" textLength="18.6" lengthAdjust="spacingAndGlyphs">11</text>
<text x="875.5" y="819.1" font-size="18" fill="#b8bbc4" text-anchor="middle" textLength="18.6" lengthAdjust="spacingAndGlyphs">14</text>
<text x="967.5" y="819.1" font-size="18" fill="#b8bbc4" text-anchor="middle" textLength="18.6" lengthAdjust="spacingAndGlyphs">19</text>
<text x="1059.5" y="819.1" font-size="18" fill="#b8bbc4" text-anchor="middle" textLength="18.6" lengthAdjust="spacingAndGlyphs">24</text>
<text x="1212.0" y="819.1" font-size="18" fill="#b8bbc4" font-weight="bold" text-anchor="middle" textLength="31.5" lengthAdjust="spacingAndGlyphs">Dec</text>
<text x="1304.0" y="819.1" font-size="18" fill="#b8bbc4" text-anchor="middle" textLength="9.3" lengthAdjust="spacingAndGlyphs">4</text>
<text x="1396.0" y="819.1" font-size="18" fill="#b8bbc4" text-anchor="middle" textLength="9.3" lengthAdjust="spacingAndGlyphs">9</text>
<text x="1488.0" y="819.1" font-size="18" fill="#b8bbc4" text-anchor="middle" textLength="18.6" lengthAdjust="spacingAndGlyphs">12</text>
<text x="1580.0" y="819.1" font-size="18" fill="#b8bbc4" text-anchor="middle" textLength="18.6" lengthAdjust="spacingAndGlyphs">17</text>
<text x="1672.0" y="819.1" font-size="18" fill="#b8bbc4" text-anchor="middle" textLength="18.6" lengthAdjust="spacingAndGlyphs">22</text>
</g>
</g>
<path d="M9 852.9H23V870H15.5V860.2H9Z" fill="#d1d4dc"/><circle cx="28" cy="856" r="3.1" fill="#d1d4dc"/><path d="M34.7 852.9H42.9L36.6 870H28.3Z" fill="#d1d4dc"/>
<text x="50.1" y="870.0" font-size="24" fill="#d1d4dc" font-weight="bold" textLength="137.2" lengthAdjust="spacingAndGlyphs">TradingView</text>
</svg></body></html>
